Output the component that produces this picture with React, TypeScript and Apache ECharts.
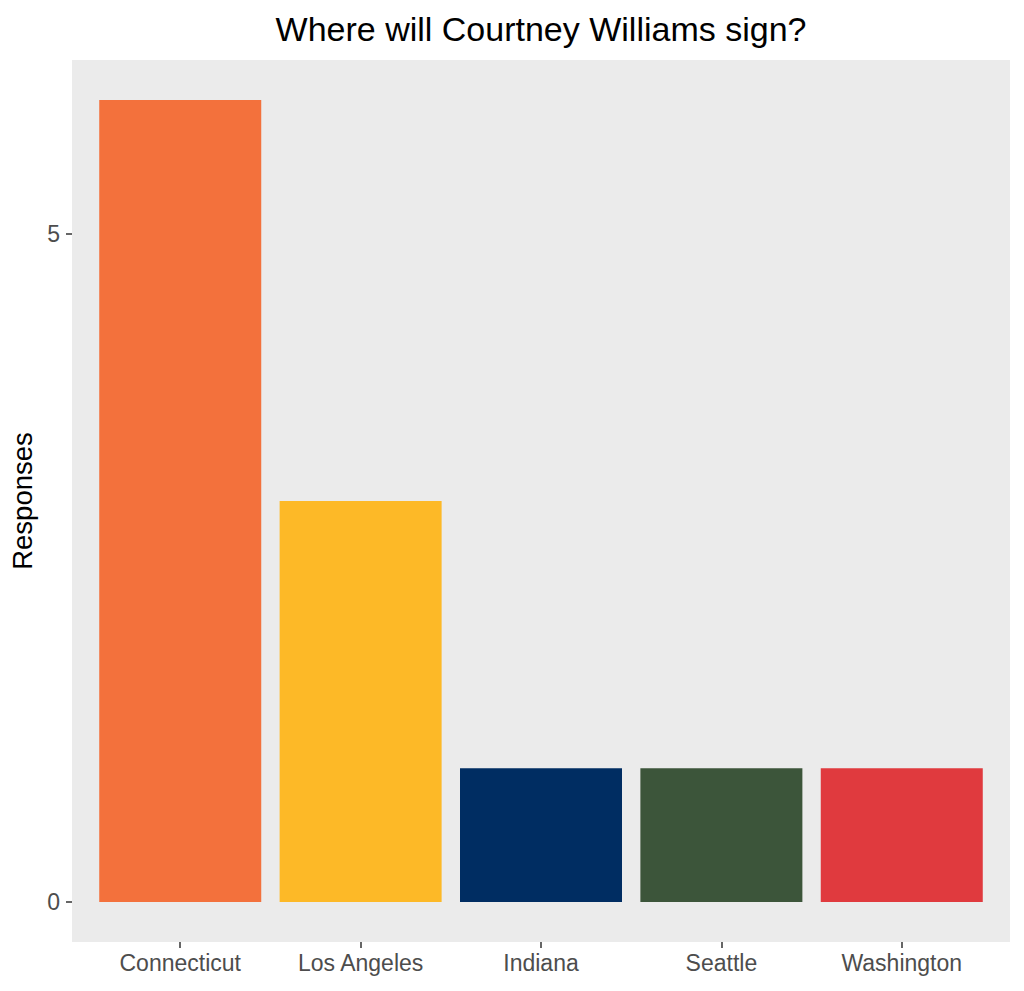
import React, { useEffect, useRef } from "react";
import * as echarts from "echarts";

const categories = ["Connecticut", "Los Angeles", "Indiana", "Seattle", "Washington"];
const responses = [6, 3, 1, 1, 1];
const barColors = ["#F3713C", "#FDB927", "#002D62", "#3C553A", "#E03A3E"];
const yTicks = [0, 5];
const titleText = "Where will Courtney Williams sign?";
const yAxisTitle = "Responses";

export default function App() {
  const ref = useRef<HTMLDivElement>(null);
  useEffect(() => {
    if (!ref.current) return;
    const chart = echarts.init(ref.current, null, { renderer: "svg" });
    const positions = categories.map((_, i) => i + 1);
    const font = "Liberation Sans, Arial, sans-serif";
    chart.setOption({
      animation: false,
      backgroundColor: "#FFFFFF",
      grid: {
        left: 72,
        right: 14,
        top: 60,
        bottom: 49,
        show: true,
        backgroundColor: "#EBEBEB",
        borderWidth: 0,
        containLabel: false,
        outerBoundsMode: "none",
      },
      graphic: [
        {
          type: "text",
          x: 541,
          y: 29,
          style: {
            text: titleText,
            fontSize: 34,
            fontFamily: font,
            fill: "#000000",
            textAlign: "center",
            textVerticalAlign: "middle",
          },
        },
      ],
      xAxis: {
        type: "value",
        min: 0.4,
        max: 5.6,
        splitLine: { show: false },
        axisLine: { show: false, onZero: false },
        axisTick: {
          show: true,
          length: 6,
          customValues: positions,
          lineStyle: { color: "#333333", width: 1.5 },
        },
        axisLabel: {
          customValues: positions,
          formatter: (v: number) => categories[Math.round(v) - 1] ?? "",
          fontSize: 23,
          fontFamily: font,
          color: "#4D4D4D",
          margin: 9,
        },
      },
      yAxis: {
        type: "value",
        min: -0.3,
        max: 6.3,
        name: yAxisTitle,
        nameLocation: "middle",
        nameGap: 34,
        nameRotate: 90,
        nameTextStyle: { fontSize: 27.5, fontFamily: font, color: "#000000" },
        splitLine: { show: false },
        axisLine: { show: false, onZero: false },
        axisTick: {
          show: true,
          length: 6,
          customValues: yTicks,
          lineStyle: { color: "#333333", width: 1.5 },
        },
        axisLabel: {
          customValues: yTicks,
          fontSize: 23,
          fontFamily: font,
          color: "#4D4D4D",
          margin: 12,
        },
      },
      series: [
        {
          type: "bar",
          barWidth: 162,
          data: responses.map((v, i) => ({
            value: [positions[i], v],
            itemStyle: { color: barColors[i] },
          })),
        },
      ],
    });
    return () => chart.dispose();
  }, []);
  return (
    <div
      ref={ref}
      style={{ position: "fixed", left: 0, top: 0, width: 1024, height: 991 }}
    />
  );
}
